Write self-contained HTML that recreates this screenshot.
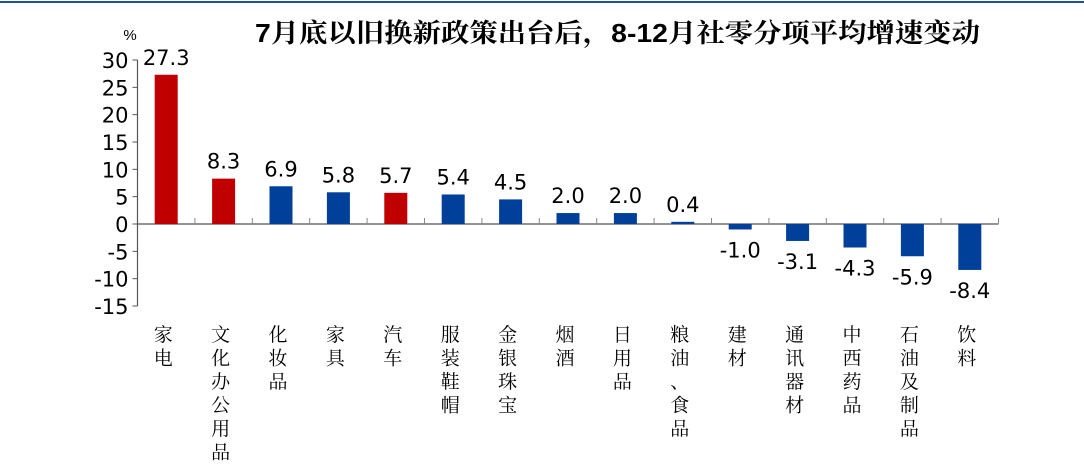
<!DOCTYPE html>
<html><head><meta charset="utf-8"><style>
body{margin:0;background:#fff;}
svg{display:block;}
</style></head><body>
<svg id="c" width="1084" height="469" xmlns="http://www.w3.org/2000/svg">
<line x1="0" y1="2" x2="1084" y2="2" stroke="#1f4e9a" stroke-width="2"/>
<text x="255" y="42" textLength="725" lengthAdjust="spacingAndGlyphs" font-family="'Liberation Sans','Noto Serif CJK SC','Noto Sans CJK SC',sans-serif" font-weight="bold" font-size="26" fill="#000">7月底以旧换新政策出台后，8-12月社零分项平均增速变动</text>
<text x="130" y="40" text-anchor="middle" font-family="'Liberation Sans',sans-serif" font-size="15">%</text>
<g id="g"></g>
</svg>
<script>
const categories=["家电","文化办公用品","化妆品","家具","汽车","服装鞋帽","金银珠宝","烟酒","日用品","粮油、食品","建材","通讯器材","中西药品","石油及制品","饮料"];
const values=[27.3,8.3,6.9,5.8,5.7,5.4,4.5,2.0,2.0,0.4,-1.0,-3.1,-4.3,-5.9,-8.4];
const highlighted=[1,1,0,0,1,0,0,0,0,0,0,0,0,0,0];
const yTicks=[30,25,20,15,10,5,0,-5,-10,-15];
const NS="http://www.w3.org/2000/svg";
const g=document.getElementById('g');
const x0=137.5,x1=998.5,step=(x1-x0)/categories.length;
const y=v=>224-v*(164/30);
function el(t,a){const e=document.createElementNS(NS,t);for(const k in a)e.setAttribute(k,a[k]);g.appendChild(e);return e;}
let ax=el('line',{x1:x0,y1:y(30),x2:x0,y2:y(-15),stroke:'#555','stroke-width':1.2});


yTicks.forEach(t=>{
 const l=el('line',{x1:x0-5,y1:y(t),x2:x0,y2:y(t),stroke:'#555'});
 
 
 const tx=el('text',{x:x0-9,y:y(t)+8,'text-anchor':'end','font-family':"'DejaVu Sans','Liberation Sans',sans-serif",'font-size':21});
 tx.textContent=t;
 
 
});
const xa=el('line',{x1:x0,y1:y(0),x2:x1,y2:y(0),stroke:'#555','stroke-width':1.2});


for(let i=1;i<=categories.length;i++){
 const l=el('line',{x1:x0+i*step,y1:y(0)-6,x2:x0+i*step,y2:y(0),stroke:'#888'});
 
 
}
categories.forEach((c,i)=>{
 const cx=x0+(i+0.5)*step,v=values[i],w=23;
 const r=el('rect',{x:cx-w/2,y:Math.min(y(v),y(0)),width:w,height:Math.max(Math.abs(y(v)-y(0)),1.5),fill:highlighted[i]?'#c00000':'#003f9a'});
 
 
 const lt=el('text',{x:cx,y:v>=0?y(v)-10:y(v)+28,'text-anchor':'middle','font-family':"'DejaVu Sans','Liberation Sans',sans-serif",'font-size':21});
 lt.textContent=v.toFixed(1);
 
 
 [...c].forEach((ch,j)=>{
  const t=el('text',{x:cx-3,y:341+j*23.5,'text-anchor':'middle','font-family':"'Noto Serif CJK SC','Noto Sans CJK SC',serif",'font-size':19});
  t.textContent=ch;
  
  
 });
});
</script>
</body></html>
